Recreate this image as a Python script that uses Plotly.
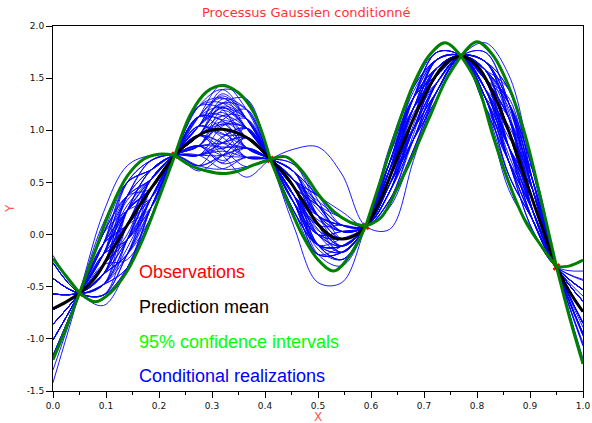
import plotly.graph_objects as go

# ---------------- data ----------------
title_text = "Processus Gaussien conditionné"
x_title = "X"
y_title = "Y"
legend_labels = ["Observations", "Prediction mean", "95% confidence intervals", "Conditional realizations"]
legend_colors = ["#ff0000", "#000000", "#00ff00", "#0000ff"]

obs_x = [0.05, 0.23, 0.41, 0.59, 0.77, 0.95]
obs_y = [-0.56, 0.76, 0.72, 0.08, 1.71, -0.31]

grid_x = [0.0, 0.025, 0.05, 0.08, 0.11, 0.14, 0.17, 0.20, 0.23, 0.26, 0.29, 0.32, 0.35, 0.38,
          0.41, 0.44, 0.47, 0.50, 0.53, 0.56, 0.59, 0.62, 0.65, 0.68, 0.71, 0.74, 0.77, 0.80,
          0.83, 0.86, 0.89, 0.92, 0.95, 0.975, 1.0]
mean_y = [-0.71, -0.645, -0.56, -0.41, -0.16, 0.09, 0.33, 0.55, 0.76, 0.90, 0.99, 1.01, 0.97, 0.88,
          0.72, 0.56, 0.33, 0.10, -0.03, -0.03, 0.08, 0.36, 0.745, 1.11, 1.42, 1.64, 1.71, 1.62,
          1.36, 0.99, 0.55, 0.11, -0.31, -0.55, -0.74]
upper_y = [-0.23, -0.40, -0.56, -0.15, 0.26, 0.56, 0.72, 0.77, 0.76, 1.16, 1.37, 1.43, 1.36, 1.16,
           0.72, 0.745, 0.61, 0.39, 0.22, 0.12, 0.08, 0.55, 1.03, 1.44, 1.72, 1.84, 1.71, 1.85,
           1.72, 1.42, 0.97, 0.35, -0.31, -0.30, -0.245]
lower_y = [-1.20, -0.89, -0.56, -0.645, -0.55, -0.35, -0.04, 0.35, 0.76, 0.66, 0.61, 0.585, 0.61, 0.67,
           0.72, 0.35, 0.00, -0.24, -0.35, -0.20, 0.08, 0.17, 0.45, 0.77, 1.12, 1.47, 1.71, 1.45,
           0.95, 0.50, 0.14, -0.10, -0.31, -0.80, -1.24]

real_x = [0.0, 0.05, 0.095, 0.14, 0.185, 0.23, 0.275, 0.32, 0.365, 0.41, 0.455, 0.50, 0.545,
          0.59, 0.635, 0.68, 0.725, 0.77, 0.815, 0.86, 0.905, 0.95, 1.0]
real_01 = [-1.01, -0.56, -0.09, 0.37, 0.53, 0.76, 0.85, 1.05, 1.02, 0.72, 0.37, -0.10, -0.17, 0.08, 0.69, 1.31, 1.60, 1.71, 1.40, 0.84, 0.23, -0.31, -0.59]
real_02 = [-0.57, -0.56, -0.38, -0.05, 0.35, 0.76, 1.04, 1.26, 1.11, 0.72, 0.30, -0.10, -0.11, 0.08, 0.62, 1.21, 1.53, 1.71, 1.49, 1.12, 0.52, -0.31, -0.97]
real_03 = [-0.27, -0.56, -0.58, -0.19, 0.35, 0.76, 1.04, 1.17, 0.93, 0.72, 0.45, 0.18, 0.09, 0.08, 0.41, 0.91, 1.38, 1.71, 1.66, 1.26, 0.43, -0.31, -0.89]
real_04 = [-1.16, -0.56, 0.01, 0.50, 0.62, 0.76, 0.76, 0.88, 0.93, 0.72, 0.45, 0.00, -0.11, 0.08, 0.62, 1.11, 1.46, 1.71, 1.58, 1.26, 0.52, -0.31, -0.97]
real_05 = [-0.72, -0.56, -0.29, 0.23, 0.53, 0.76, 0.85, 0.76, 0.74, 0.72, 0.60, 0.37, 0.16, 0.08, 0.33, 0.81, 1.38, 1.71, 1.66, 1.12, 0.33, -0.31, -0.74]
real_06 = [-0.42, -0.56, -0.48, -0.32, 0.17, 0.76, 1.23, 1.39, 1.11, 0.72, 0.30, 0.00, 0.03, 0.08, 0.48, 1.11, 1.60, 1.71, 1.40, 0.70, 0.04, -0.31, -0.44]
real_07 = [-0.86, -0.56, -0.19, 0.09, 0.35, 0.76, 1.04, 1.26, 1.20, 0.72, 0.22, -0.19, -0.17, 0.08, 0.69, 1.21, 1.53, 1.71, 1.49, 0.84, 0.23, -0.31, -0.64]
real_08 = [-0.57, -0.56, -0.38, 0.09, 0.53, 0.76, 0.85, 0.84, 0.83, 0.72, 0.52, 0.09, -0.11, 0.08, 0.62, 1.31, 1.75, 1.71, 1.23, 0.57, 0.14, -0.31, -0.53]
real_09 = [-1.30, -0.56, 0.11, 0.50, 0.62, 0.76, 0.76, 0.76, 0.83, 0.72, 0.52, 0.28, 0.09, 0.08, 0.41, 1.01, 1.53, 1.71, 1.49, 1.12, 0.43, -0.31, -0.85]
real_10 = [-0.42, -0.56, -0.48, -0.05, 0.44, 0.76, 0.95, 0.88, 0.74, 0.72, 0.60, 0.28, 0.03, 0.08, 0.48, 0.91, 1.38, 1.71, 1.66, 1.39, 0.62, -0.31, -1.22]
real_11 = [-0.72, -0.56, -0.29, -0.05, 0.26, 0.76, 1.13, 1.22, 1.02, 0.72, 0.37, 0.09, -0.04, 0.08, 0.55, 1.21, 1.68, 1.71, 1.32, 0.84, 0.33, -0.31, -0.74]
real_12 = [-1.01, -0.56, -0.09, 0.23, 0.44, 0.76, 0.95, 1.14, 1.02, 0.72, 0.37, -0.19, -0.30, 0.08, 0.84, 1.41, 1.68, 1.71, 1.32, 0.70, 0.23, -0.31, -0.64]
real_13 = [-0.27, -0.56, -0.58, -0.32, 0.26, 0.76, 1.13, 1.14, 0.93, 0.72, 0.45, 0.28, 0.16, 0.08, 0.33, 0.91, 1.46, 1.71, 1.58, 0.98, 0.23, -0.31, -0.64]
real_14 = [-0.86, -0.56, -0.19, 0.37, 0.62, 0.76, 0.76, 0.63, 0.65, 0.72, 0.67, 0.28, 0.03, 0.08, 0.48, 1.01, 1.53, 1.71, 1.49, 1.26, 0.62, -0.31, -1.19]
real_15 = [-0.57, -0.56, -0.38, -0.19, 0.35, 0.76, 1.04, 0.97, 0.83, 0.72, 0.52, 0.18, 0.03, 0.08, 0.48, 1.11, 1.60, 1.71, 1.40, 0.84, 0.33, -0.31, -0.74]
real_16 = [-1.16, -0.56, 0.01, 0.37, 0.53, 0.76, 0.85, 1.14, 1.11, 0.72, 0.30, -0.10, -0.11, 0.08, 0.62, 1.31, 1.68, 1.71, 1.23, 0.43, 0.04, -0.31, -0.35]
real_17 = [-0.42, -0.56, -0.48, 0.09, 0.53, 0.76, 0.85, 0.88, 0.93, 0.72, 0.45, -0.10, -0.24, 0.08, 0.77, 1.31, 1.60, 1.71, 1.40, 0.98, 0.43, -0.31, -0.85]
real_18 = [-0.72, -0.56, -0.29, 0.37, 0.71, 0.76, 0.66, 0.76, 0.83, 0.72, 0.52, 0.18, -0.04, 0.08, 0.55, 1.01, 1.38, 1.71, 1.66, 1.26, 0.52, -0.31, -0.95]
real_19 = [-0.86, -0.56, -0.19, 0.23, 0.44, 0.76, 0.95, 1.30, 1.20, 0.72, 0.22, -0.10, -0.11, 0.08, 0.62, 1.11, 1.53, 1.71, 1.49, 0.70, 0.14, -0.31, -0.53]
real_20 = [-0.57, -0.56, -0.38, -0.19, 0.17, 0.76, 1.23, 1.26, 1.02, 0.72, 0.37, 0.00, -0.11, 0.08, 0.62, 1.21, 1.60, 1.71, 1.40, 0.98, 0.52, -0.31, -0.95]
real_21 = [-1.01, -0.56, -0.09, 0.50, 0.71, 0.76, 0.66, 0.76, 0.93, 0.72, 0.45, 0.09, -0.11, 0.08, 0.62, 1.41, 1.75, 1.71, 1.23, 0.70, 0.23, -0.31, -0.64]
real_22 = [-0.27, -0.56, -0.58, -0.05, 0.44, 0.76, 0.95, 1.01, 0.83, 0.72, 0.52, 0.28, 0.03, 0.08, 0.48, 0.91, 1.31, 1.71, 1.75, 1.26, 0.43, -0.31, -0.85]
real_23 = [-1.01, -0.56, -0.09, 0.09, 0.26, 0.76, 1.13, 1.10, 1.02, 0.72, 0.37, 0.09, 0.09, 0.08, 0.41, 1.01, 1.46, 1.71, 1.58, 1.12, 0.33, -0.31, -0.74]
real_24 = [-0.72, -0.56, -0.29, 0.09, 0.44, 0.76, 0.95, 0.88, 0.83, 0.72, 0.52, 0.37, 0.22, 0.08, 0.26, 0.81, 1.38, 1.71, 1.66, 1.39, 0.52, -0.31, -0.95]
real_25 = [-0.42, -0.56, -0.48, -0.19, 0.44, 0.76, 0.95, 1.23, 1.11, 0.72, 0.30, 0.00, -0.04, 0.08, 0.55, 1.01, 1.46, 1.71, 1.58, 0.84, 0.14, -0.31, -0.53]
real_26 = [-0.86, -0.56, -0.19, 0.50, 0.71, 0.76, 0.66, 0.63, 0.74, 0.72, 0.60, 0.18, -0.11, 0.08, 0.62, 1.21, 1.68, 1.71, 1.32, 0.84, 0.43, -0.31, -0.85]
real_27 = [-0.57, -0.56, -0.38, 0.23, 0.62, 0.76, 0.76, 1.04, 1.11, 0.72, 0.30, -0.10, -0.17, 0.08, 0.69, 1.31, 1.53, 1.71, 1.49, 1.12, 0.23, -0.31, -0.64]
real_28 = [-0.86, -0.56, -0.19, -0.05, 0.35, 0.76, 1.04, 1.39, 1.30, 0.72, 0.15, -0.19, -0.11, 0.08, 0.62, 1.01, 1.38, 1.71, 1.66, 1.12, 0.23, -0.31, -0.64]
real_29 = [-0.20, -0.56, -0.68, -0.32, 0.26, 0.76, 1.13, 1.01, 0.74, 0.72, 0.60, 0.37, 0.09, 0.08, 0.41, 1.11, 1.68, 1.71, 1.32, 0.70, 0.23, -0.31, -0.64]
real_30 = [-0.72, -0.56, -0.29, 0.23, 0.62, 0.76, 0.76, 0.88, 1.02, 0.72, 0.37, 0.00, -0.04, 0.08, 0.55, 0.91, 1.31, 1.71, 1.84, 1.53, 0.62, -0.31, -1.07]
real_31 = [-0.57, -0.56, -0.38, -0.05, 0.44, 0.76, 0.95, 1.26, 1.30, 0.72, 0.07, -0.46, -0.46, 0.08, 0.69, 1.31, 1.60, 1.71, 1.40, 0.84, 0.33, -0.31, -0.74]
real_32 = [-0.86, -0.56, -0.19, 0.23, 0.44, 0.76, 0.95, 0.76, 0.55, 0.72, 0.82, 0.84, 0.58, 0.08, 0.05, 0.71, 1.38, 1.71, 1.66, 1.12, 0.23, -0.31, -0.64]
real_33 = [-1.42, -0.56, 0.21, 0.66, 0.76, 0.76, 0.61, 0.76, 0.93, 0.72, 0.45, 0.18, 0.03, 0.08, 0.48, 1.11, 1.60, 1.71, 1.40, 0.70, 0.14, -0.31, -0.53]
real_34 = [-0.86, -0.56, -0.19, 0.33, 0.53, 0.76, 0.85, 0.71, 0.83, 0.72, 0.52, 0.24, 0.03, 0.08, 0.48, 0.91, 1.46, 1.71, 1.58, 1.21, 0.43, -0.31, -0.85]
real_35 = [-0.57, -0.56, -0.38, -0.19, 0.26, 0.76, 1.13, 1.33, 1.11, 0.72, 0.30, -0.19, -0.17, 0.08, 0.69, 1.37, 1.68, 1.71, 1.32, 0.57, 0.14, -0.31, -0.53]
real_36 = [-0.42, -0.56, -0.48, -0.13, 0.35, 0.76, 1.04, 0.93, 0.74, 0.72, 0.60, 0.18, -0.04, 0.08, 0.55, 1.21, 1.60, 1.71, 1.40, 1.12, 0.52, -0.31, -0.95]
real_37 = [-1.01, -0.56, -0.09, 0.23, 0.53, 0.76, 0.85, 1.19, 1.02, 0.72, 0.37, 0.04, -0.04, 0.08, 0.55, 1.01, 1.46, 1.71, 1.58, 0.98, 0.33, -0.31, -0.74]
real_38 = [-0.72, -0.56, -0.29, -0.05, 0.35, 0.76, 1.04, 0.96, 0.93, 0.72, 0.45, 0.00, -0.17, 0.08, 0.69, 1.21, 1.60, 1.71, 1.40, 0.76, 0.23, -0.31, -0.64]
real_39 = [-0.57, -0.56, -0.38, 0.09, 0.44, 0.76, 0.95, 1.08, 0.93, 0.72, 0.45, 0.28, 0.09, 0.08, 0.41, 1.05, 1.60, 1.71, 1.40, 0.84, 0.14, -0.31, -0.53]
real_40 = [-1.16, -0.56, 0.01, 0.37, 0.44, 0.76, 0.95, 0.82, 0.65, 0.72, 0.67, 0.33, -0.04, 0.08, 0.55, 1.21, 1.46, 1.71, 1.58, 1.39, 0.52, -0.31, -0.95]
real_41 = [-0.42, -0.56, -0.48, -0.05, 0.53, 0.76, 0.85, 0.69, 0.93, 0.72, 0.45, -0.10, -0.24, 0.08, 0.77, 1.41, 1.68, 1.71, 1.32, 1.04, 0.43, -0.31, -0.85]
real_42 = [-0.86, -0.56, -0.19, 0.28, 0.53, 0.76, 0.85, 1.06, 0.83, 0.72, 0.52, 0.18, 0.09, 0.08, 0.41, 0.91, 1.46, 1.71, 1.58, 1.26, 0.62, -0.31, -1.04]
real_43 = [-0.72, -0.56, -0.29, 0.37, 0.62, 0.76, 0.76, 0.94, 1.02, 0.72, 0.37, -0.14, -0.24, 0.08, 0.77, 1.21, 1.53, 1.71, 1.49, 0.84, 0.14, -0.31, -0.53]
real_44 = [-0.27, -0.56, -0.58, -0.19, 0.26, 0.76, 1.13, 1.31, 1.02, 0.72, 0.37, -0.10, -0.11, 0.08, 0.62, 1.11, 1.53, 1.71, 1.49, 1.12, 0.33, -0.31, -0.74]
real_45 = [-1.01, -0.56, -0.09, 0.50, 0.62, 0.76, 0.76, 0.83, 0.83, 0.72, 0.52, 0.37, 0.16, 0.08, 0.33, 0.96, 1.60, 1.71, 1.40, 0.84, 0.33, -0.31, -0.74]
real_46 = [-0.57, -0.56, -0.38, 0.09, 0.35, 0.76, 1.04, 1.35, 1.11, 0.72, 0.30, 0.00, 0.03, 0.08, 0.48, 0.91, 1.38, 1.71, 1.66, 1.17, 0.23, -0.31, -0.64]
real_47 = [-0.72, -0.56, -0.29, -0.24, 0.17, 0.76, 1.23, 1.20, 0.83, 0.72, 0.52, 0.09, -0.17, 0.08, 0.69, 1.31, 1.68, 1.71, 1.32, 0.70, 0.04, -0.31, -0.43]
real_48 = [-0.86, -0.56, -0.19, -0.05, 0.26, 0.76, 1.13, 1.44, 1.20, 0.72, 0.22, -0.10, -0.04, 0.08, 0.55, 1.31, 1.75, 1.71, 1.23, 0.70, 0.33, -0.31, -0.74]
real_49 = [-0.42, -0.56, -0.48, -0.32, 0.26, 0.76, 1.13, 1.09, 0.83, 0.72, 0.52, 0.32, 0.16, 0.08, 0.33, 0.81, 1.31, 1.71, 1.75, 1.26, 0.33, -0.31, -0.74]
real_50 = [-1.01, -0.56, -0.09, 0.37, 0.71, 0.76, 0.66, 0.93, 1.02, 0.72, 0.37, 0.18, 0.09, 0.08, 0.41, 1.11, 1.68, 1.71, 1.32, 0.57, 0.14, -0.31, -0.53]
real_51 = [-0.57, -0.56, -0.38, 0.23, 0.44, 0.76, 0.95, 0.82, 1.02, 0.72, 0.37, -0.10, -0.24, 0.08, 0.77, 1.31, 1.53, 1.71, 1.49, 1.31, 0.43, -0.31, -0.85]
real_52 = [-0.72, -0.56, -0.29, 0.23, 0.44, 0.76, 0.95, 1.06, 1.02, 0.72, 0.37, 0.14, 0.03, 0.08, 0.48, 1.01, 1.46, 1.71, 1.58, 1.26, 0.52, -0.31, -0.95]
real_53 = [-1.16, -0.56, 0.01, 0.23, 0.35, 0.76, 1.04, 1.21, 1.11, 0.72, 0.30, -0.19, -0.17, 0.08, 0.69, 1.31, 1.75, 1.71, 1.23, 0.84, 0.23, -0.31, -0.64]
real_54 = [-0.27, -0.56, -0.58, -0.32, 0.17, 0.76, 1.23, 1.31, 1.11, 0.72, 0.30, 0.09, -0.04, 0.08, 0.55, 1.16, 1.46, 1.71, 1.58, 0.98, 0.23, -0.31, -0.64]
real_55 = [-0.86, -0.56, -0.19, 0.09, 0.53, 0.76, 0.85, 0.68, 0.74, 0.72, 0.60, 0.18, 0.09, 0.08, 0.41, 1.01, 1.53, 1.71, 1.49, 0.84, 0.43, -0.31, -0.85]
real_56 = [-0.72, -0.56, -0.29, 0.00, 0.53, 0.76, 0.85, 1.10, 1.20, 0.72, 0.22, -0.10, -0.11, 0.08, 0.62, 1.21, 1.68, 1.71, 1.32, 0.70, 0.14, -0.31, -0.53]
real_57 = [-0.42, -0.56, -0.48, 0.23, 0.62, 0.76, 0.76, 0.80, 0.74, 0.72, 0.60, 0.09, -0.11, 0.08, 0.62, 1.31, 1.60, 1.71, 1.40, 0.93, 0.62, -0.31, -1.06]
real_58 = [-1.01, -0.56, -0.09, 0.09, 0.44, 0.76, 0.95, 1.22, 1.02, 0.72, 0.37, 0.05, -0.17, 0.08, 0.69, 1.01, 1.38, 1.71, 1.66, 1.26, 0.43, -0.31, -0.85]

realizations = [real_01, real_02, real_03, real_04, real_05, real_06, real_07, real_08, real_09,
                real_10, real_11, real_12, real_13, real_14, real_15, real_16, real_17, real_18,
                real_19, real_20, real_21, real_22, real_23, real_24, real_25, real_26, real_27,
                real_28, real_29, real_30, real_31, real_32, real_33, real_34, real_35, real_36,
                real_37, real_38, real_39, real_40, real_41, real_42, real_43, real_44, real_45,
                real_46, real_47, real_48, real_49, real_50, real_51, real_52, real_53, real_54,
                real_55, real_56, real_57, real_58]

x_tickvals = [0.0, 0.1, 0.2, 0.3, 0.4, 0.5, 0.6, 0.7, 0.8, 0.9, 1.0]
x_ticktext = ["0.0", "0.1", "0.2", "0.3", "0.4", "0.5", "0.6", "0.7", "0.8", "0.9", "1.0"]
x_minorvals = [0.05, 0.15, 0.25, 0.35, 0.45, 0.55, 0.65, 0.75, 0.85, 0.95]
y_tickvals = [-1.5, -1.0, -0.5, 0.0, 0.5, 1.0, 1.5, 2.0]
y_ticktext = ["-1.5", "-1.0", "-0.5", "0.0", "0.5", "1.0", "1.5", "2.0"]


# ---------------- figure ----------------
def split_at_obs(xs, ys):
    """Break a curve at each observation so the confidence band keeps its cusps."""
    bx, by = [], []
    for x, y in zip(xs, ys):
        bx.append(x)
        by.append(y)
        if any(abs(x - o) < 1e-9 for o in obs_x):
            bx += [None, x]
            by += [None, y]
    return bx, by


fig = go.Figure()

for r in realizations:
    fig.add_trace(go.Scatter(x=real_x, y=r, mode="lines",
                             line=dict(color="rgb(0,0,255)", width=0.9, shape="spline", smoothing=1),
                             showlegend=False, hoverinfo="skip"))

fig.add_trace(go.Scatter(x=obs_x, y=obs_y, mode="markers",
                         marker=dict(symbol="x", size=7, color="red", line=dict(width=0)),
                         showlegend=False))

fig.add_trace(go.Scatter(x=grid_x, y=mean_y, mode="lines",
                         line=dict(color="black", width=3, shape="spline", smoothing=1),
                         showlegend=False))

for band in (upper_y, lower_y):
    bx, by = split_at_obs(grid_x, band)
    fig.add_trace(go.Scatter(x=bx, y=by, mode="lines", connectgaps=False,
                             line=dict(color="rgb(0,128,0)", width=3, shape="spline", smoothing=1),
                             showlegend=False))

tick_font = dict(family="DejaVu Sans", size=9, color="#111111")

fig.update_xaxes(range=[0, 1], tickmode="array", tickvals=x_tickvals, ticktext=x_ticktext,
                 ticks="outside", ticklen=6, tickwidth=1, tickcolor="black",
                 minor=dict(tickmode="array", tickvals=x_minorvals, ticks="outside",
                            ticklen=3, tickwidth=1, tickcolor="black"),
                 showline=True, linecolor="black", linewidth=1, mirror=True, automargin=False,
                 showgrid=False, zeroline=False, tickfont=tick_font)
fig.update_yaxes(range=[-1.5, 2.0], tickmode="array", tickvals=y_tickvals, ticktext=y_ticktext,
                 ticks="outside", ticklen=6, tickwidth=1, tickcolor="black",
                 showline=True, linecolor="black", linewidth=1, mirror=True, automargin=False,
                 showgrid=False, zeroline=False, tickfont=tick_font)

annotations = [
    dict(text=title_text, x=0.4777, y=1.036, xref="paper", yref="paper",
         xanchor="center", yanchor="middle", showarrow=False,
         font=dict(family="DejaVu Sans", size=13, color="#ff3333")),
    dict(text=x_title, x=0.5, y=-0.071, xref="paper", yref="paper",
         xanchor="center", yanchor="middle", showarrow=False,
         font=dict(family="DejaVu Sans", size=12, color="#ff5555")),
    dict(text=y_title, x=-0.082, y=0.5, xref="paper", yref="paper", textangle=-90,
         xanchor="center", yanchor="middle", showarrow=False,
         font=dict(family="DejaVu Sans", size=12, color="#ff5555")),
]
legend_y = [0.3268, 0.2303, 0.1344, 0.0417]
for label, color, ly in zip(legend_labels, legend_colors, legend_y):
    annotations.append(dict(text=label, x=0.158, y=ly, xref="paper", yref="paper",
                            xanchor="left", yanchor="middle", showarrow=False,
                            font=dict(family="Liberation Sans", size=18, color=color)))

fig.update_layout(width=592, height=423, autosize=False,
                  margin=dict(l=53, r=9, t=26, b=32),
                  paper_bgcolor="white", plot_bgcolor="white",
                  showlegend=False, annotations=annotations)

fig.write_html("out.html", config={"displayModeBar": False},
               post_script="document.body.style.margin='0';document.body.style.overflow='hidden';")
